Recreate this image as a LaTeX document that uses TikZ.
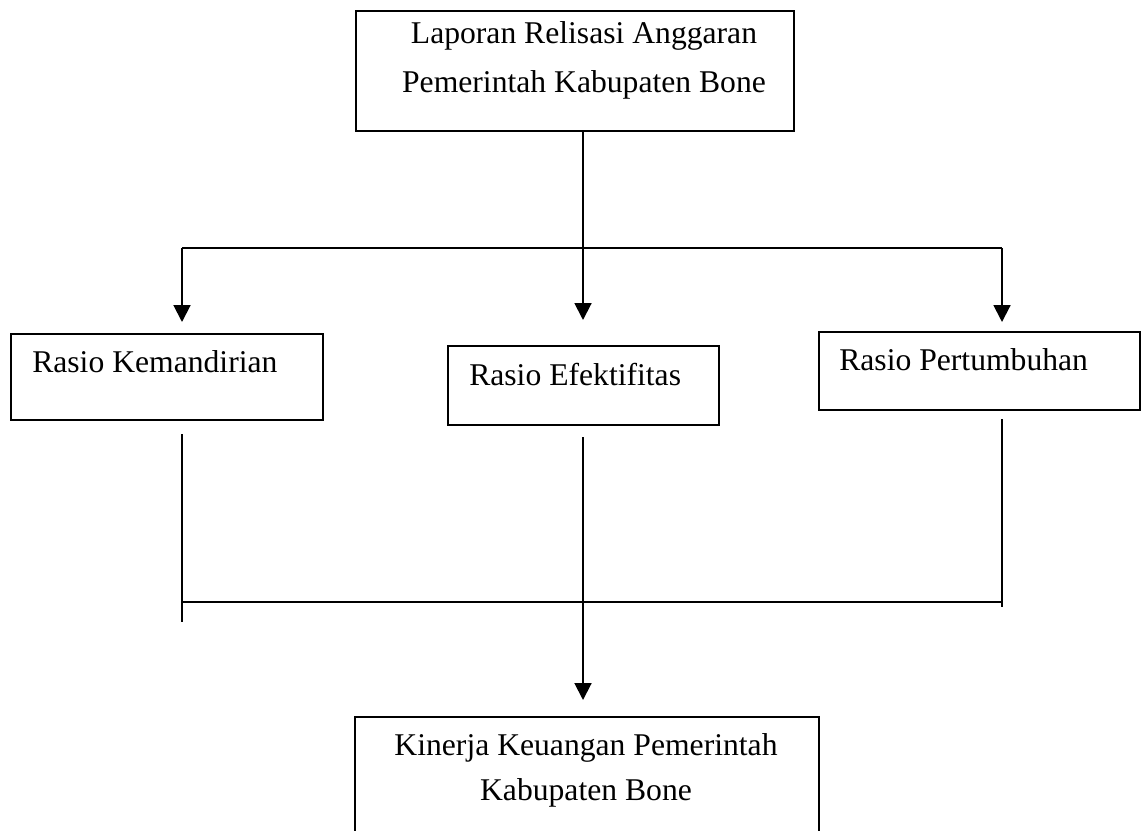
\documentclass[tikz,border=0pt]{standalone}
\usepackage{fontspec}
\setmainfont{Liberation Serif}
\usetikzlibrary{arrows.meta}

\tikzset{
	box/.style={draw, line width=1.4pt, inner sep=0pt, anchor=north west},
	lbl/.style={font=\fontsize{22.5}{33}\selectfont, inner sep=0pt, align=center},
	conn/.style={line width=1.4pt},
	arr/.style={line width=1.4pt, -{Triangle[width=0.42cm, length=0.42cm]}}
}

\begin{document}
\begin{tikzpicture}[x=0.025cm, y=-0.025cm]
		%%%%% START %%%%%
		\clip (0, 0) rectangle (1141, 830);
		
		% boxes
		\node[box, minimum width=10.95cm, minimum height=3cm] (lra) at (355, 10) {};
		\node[box, minimum width=7.8cm, minimum height=2.15cm] (kem) at (10, 333) {};
		\node[box, minimum width=6.775cm, minimum height=1.975cm] (efk) at (447, 345) {};
		\node[box, minimum width=8.025cm, minimum height=1.95cm] (pert) at (818, 331) {};
		\node[box, minimum width=11.6cm, minimum height=3.5cm] (kin) at (354, 716) {};
		
		% texts
		\node[lbl, anchor=base, font=\fontsize{22.5}{34.5}\selectfont] (lratext) at (584, 92) {Laporan Relisasi Anggaran\\Pemerintah Kabupaten Bone};
		\node[lbl, anchor=base west] (kemtext) at (32, 372) {Rasio Kemandirian};
		\node[lbl, anchor=base west] (efktext) at (469, 385) {Rasio Efektifitas};
		\node[lbl, anchor=base west] (perttext) at (839, 370) {Rasio Pertumbuhan};
		\node[lbl, anchor=base, font=\fontsize{22.5}{32}\selectfont] (kintext) at (586, 800) {Kinerja Keuangan Pemerintah\\Kabupaten Bone};
		
		% branching
		\coordinate (split) at (583, 248);
		\coordinate (jl) at (182, 248);
		\coordinate (jr) at (1002, 248);
		\draw[conn] (lra.south -| split) -- (split);
		\draw[conn] (jl) -- (jr);
		\draw[arr] (jl) -- ([yshift=0.275cm]kem.north -| jl);
		\draw[arr] (split) -- ([yshift=0.625cm]efk.north -| split);
		\draw[arr] (jr) -- ([yshift=0.225cm]pert.north -| jr);
		
		% merging
		\coordinate (merge) at (583, 602);
		\coordinate (ml) at (182, 602);
		\coordinate (mr) at (1002, 602);
		\draw[conn] ([yshift=-0.325cm]kem.south -| ml) -- ([yshift=-0.5cm]ml);
		\draw[conn] ([yshift=-0.2cm]pert.south -| mr) -- ([yshift=-0.125cm]mr);
		\draw[conn] (ml) -- (mr);
		\draw[arr] ([yshift=-0.275cm]efk.south -| merge) -- ([yshift=0.4cm]kin.north -| merge);
		
		%%%%% END %%%%%
	\end{tikzpicture}
\end{document}
